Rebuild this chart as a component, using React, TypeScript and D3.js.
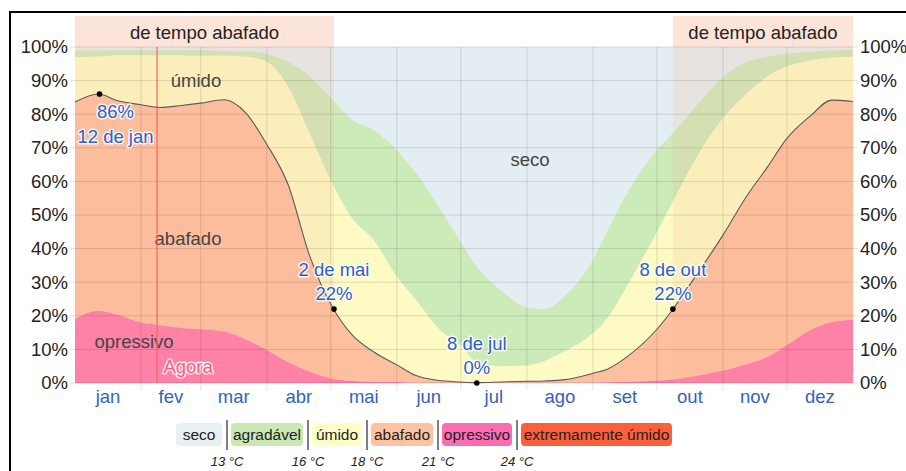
import React from 'react';
import * as d3 from 'd3';

// humidity comfort levels through the year (percent of time, cumulative from the bottom)
const monthNames = ['jan', 'fev', 'mar', 'abr', 'mai', 'jun', 'jul', 'ago', 'set', 'out', 'nov', 'dez'];
const monthStarts = [0, 31, 59, 90, 120, 151, 181, 212, 243, 273, 304, 334, 365];

const days = [0, 11, 20, 31, 40, 50, 59, 70, 80, 90, 100, 110, 121, 130, 140, 151, 160, 170, 181, 188, 200, 212, 220, 230, 243, 250, 260, 273, 280, 290, 304, 315, 325, 334, 345, 355, 365];
const opressivoTop = [19, 21.5, 20.3, 18, 17.2, 16.4, 16, 15.3, 13, 9.8, 6.2, 3.4, 1.2, 0.6, 0.4, 0.3, 0.1, 0.1, 0.1, 0.1, 0.1, 0.1, 0.1, 0.1, 0.1, 0.2, 0.4, 0.7, 1, 1.9, 3.7, 5.6, 7.8, 11.3, 15.8, 18.1, 18.8];
const abafadoTop = [83.6, 86, 84, 82.8, 82, 82.6, 83.3, 84.3, 80.5, 71, 59, 38, 22.3, 14.3, 9.3, 5.4, 2.2, 0.8, 0.3, 0.1, 0.3, 0.5, 0.6, 1, 2.9, 4.2, 8.3, 16, 21.5, 30.7, 44, 55.5, 64.4, 72.8, 79.5, 84.2, 83.8];
const umidoTop = [97, 97.2, 97.5, 97.5, 97.5, 97.5, 97.4, 97.4, 97.1, 95.6, 88.2, 74.3, 59, 49, 42.6, 31.6, 24.7, 16.6, 11, 6.5, 5, 5.2, 6.5, 9.5, 14.8, 19.5, 30, 44.9, 53.4, 65.4, 78.8, 86, 91.3, 94.2, 96, 96.8, 97.1];
const agradavelTop = [99, 99, 99, 99, 99, 99, 99, 98.8, 98.7, 98, 95.6, 91.4, 84.2, 78.3, 75.3, 69.3, 62.4, 53, 42, 35, 27.5, 22.5, 22, 26, 36.6, 45.5, 57.5, 69.3, 74, 81.3, 91, 95.5, 97, 98, 98.5, 99, 99.1];

const yTicks = [0, 10, 20, 30, 40, 50, 60, 70, 80, 90, 100];

const keyDates = [
  { day: 11.5, value: 86, label: '12 de jan', below: true },
  { day: 121.5, value: 22, label: '2 de mai', below: false },
  { day: 188.5, value: 0, label: '8 de jul', below: false },
  { day: 280.5, value: 22, label: '8 de out', below: false },
];
const muggyEnd = 121.5;
const muggyStart = 280.5;
const today = 38.5;

const legendLabels = ['seco', 'agradável', 'úmido', 'abafado', 'opressivo', 'extremamente úmido'];
const legendTemps = ['13 °C', '16 °C', '18 °C', '21 °C', '24 °C'];

// layout / styles
const W = 906;
const H = 471;
const left = 75;
const right = 853;
const top = 47;
const bottom = 383;
const font = '"Liberation Sans", Arial, sans-serif';
const bandColor = {
  seco: '#e4edf1',
  agradavel: '#cdeab9',
  umido: '#fdfac3',
  abafado: '#fdc09e',
  opressivo: '#ff78aa',
};
const legendColors = ['#e8f0f3', '#c9e8b4', '#fefec6', '#fdc3a0', '#fd6db3', '#fb5f3b'];
const legendBoxW = [46, 72, 50, 62, 70, 151];
const blue = '#2f5fc6';

const App = () => {
  const x = d3.scaleLinear().domain([0, 365]).range([left, right]);
  const y = d3.scaleLinear().domain([0, 100]).range([bottom, top]);

  const rows = days.map((d, i) => ({
    day: d,
    l1: opressivoTop[i],
    l2: abafadoTop[i],
    l3: umidoTop[i],
    l4: agradavelTop[i],
  }));

  const band = (lo, hi) =>
    d3
      .area()
      .x((d) => x(d.day))
      .y0((d) => y(lo(d)))
      .y1((d) => y(hi(d)))
      .curve(d3.curveMonotoneX)(rows);

  const muggyLine = d3
    .line()
    .x((d) => x(d.day))
    .y((d) => y(d.l2))
    .curve(d3.curveMonotoneX)(rows);

  const halo = { stroke: 'rgba(255,255,255,0.85)', strokeWidth: 3, paintOrder: 'stroke', strokeLinejoin: 'round' };

  // legend positions
  let lx = 176;
  const legend = legendLabels.map((label, i) => {
    const item = { label, x: lx, w: legendBoxW[i], color: legendColors[i], sep: lx + legendBoxW[i] + 5 };
    lx += legendBoxW[i] + 9;
    return item;
  });

  return (
    <svg width={W} height={H} style={{ position: 'absolute', left: 0, top: 0 }} fontFamily={font}>
      <rect width={W} height={H} fill="#fff" />
      <path d={`M10,${H} V12 H${W}`} fill="none" stroke="#000" strokeWidth={2} />

      {/* muggy season header boxes */}
      <rect x={x(0)} y={16} width={x(muggyEnd) - x(0)} height={top - 16} fill="#fde4d8" />
      <rect x={x(muggyStart)} y={16} width={x(365) - x(muggyStart)} height={top - 16} fill="#fde4d8" />
      <text x={(x(0) + x(muggyEnd)) / 2} y={39} textAnchor="middle" fontSize={18.5} fill="#222">
        de tempo abafado
      </text>
      <text x={(x(muggyStart) + x(365)) / 2} y={39} textAnchor="middle" fontSize={18.5} fill="#222">
        de tempo abafado
      </text>

      {/* bands */}
      <rect x={left} y={top} width={right - left} height={bottom - top} fill={bandColor.seco} />
      <path d={band((d) => d.l3, (d) => d.l4)} fill={bandColor.agradavel} />
      <path d={band((d) => d.l2, (d) => d.l3)} fill={bandColor.umido} />
      <path d={band((d) => d.l1, (d) => d.l2)} fill={bandColor.abafado} />
      <path d={band(() => 0, (d) => d.l1)} fill={bandColor.opressivo} />

      {/* muggy season overlay */}
      <rect x={x(0)} y={top} width={x(muggyEnd) - x(0)} height={bottom - top} fill="rgb(250,180,150)" opacity={0.17} />
      <rect x={x(muggyStart)} y={top} width={x(365) - x(muggyStart)} height={bottom - top} fill="rgb(250,180,150)" opacity={0.17} />

      {/* grid */}
      {yTicks.map((t) => (
        <line key={t} x1={left - 5} x2={right + 5} y1={y(t)} y2={y(t)} stroke="#000" strokeOpacity={0.12} />
      ))}
      {monthStarts.slice(1, 12).map((m) => (
        <line key={m} x1={x(m)} x2={x(m)} y1={top} y2={bottom + 7} stroke="#000" strokeOpacity={0.12} />
      ))}

      {/* y labels */}
      {yTicks.map((t) => (
        <g key={t} fontSize={18.5} fill="#222">
          <text x={left - 7} y={y(t)} dy="0.35em" textAnchor="end">{`${t}%`}</text>
          <text x={right + 7} y={y(t)} dy="0.35em">{`${t}%`}</text>
        </g>
      ))}

      {/* month labels */}
      {monthNames.map((m, i) => (
        <text key={m} x={x((monthStarts[i] + monthStarts[i + 1]) / 2)} y={403} textAnchor="middle" fontSize={18.5} fill="#3462bb">
          {m}
        </text>
      ))}

      {/* band labels */}
      <g fontSize={18.5} fill="#444" textAnchor="middle">
        <text x={196} y={87}>úmido</text>
        <text x={188} y={245}>abafado</text>
        <text x={530} y={166}>seco</text>
        <text x={134} y={348}>opressivo</text>
      </g>

      {/* today */}
      <line x1={x(today)} x2={x(today)} y1={top} y2={bottom} stroke="#ff6060" strokeWidth={1.2} />
      <text x={x(today) + 31} y={373} textAnchor="middle" fontSize={18.5} fill="#ff5b82" {...halo}>
        Agora
      </text>

      {/* muggy probability line */}
      <path d={muggyLine} fill="none" stroke="#5a5a5a" strokeWidth={1.1} />

      {/* key dates */}
      {keyDates.map((k) => {
        const cx = x(k.day);
        const cy = y(k.value);
        const w = k.label.length * 9;
        const tx = Math.max(left + w / 2, Math.min(right - w / 2, cx));
        const pctY = k.below ? cy + 24 : cy - 9;
        const dateY = k.below ? cy + 49 : cy - 33;
        return (
          <g key={k.label}>
            <circle cx={cx} cy={cy} r={2.8} fill="#000" />
            <g fontSize={18.5} fill={blue} textAnchor="middle" {...halo}>
              <text x={tx} y={pctY}>{`${k.value}%`}</text>
              <text x={tx} y={dateY}>{k.label}</text>
            </g>
          </g>
        );
      })}

      {/* legend */}
      {legend.map((l, i) => (
        <g key={l.label}>
          <rect x={l.x} y={423} width={l.w} height={23} rx={4} fill={l.color} />
          <text x={l.x + l.w / 2} y={440} textAnchor="middle" fontSize={15.5} fill="#222">
            {l.label}
          </text>
          {i < legend.length - 1 && (
            <>
              <line x1={l.sep} x2={l.sep} y1={420} y2={450} stroke="#555" strokeWidth={1.5} />
              <text x={l.sep} y={466} textAnchor="middle" fontSize={13} fontStyle="italic" fill="#222">
                {legendTemps[i]}
              </text>
            </>
          )}
        </g>
      ))}
    </svg>
  );
};

export default App;
